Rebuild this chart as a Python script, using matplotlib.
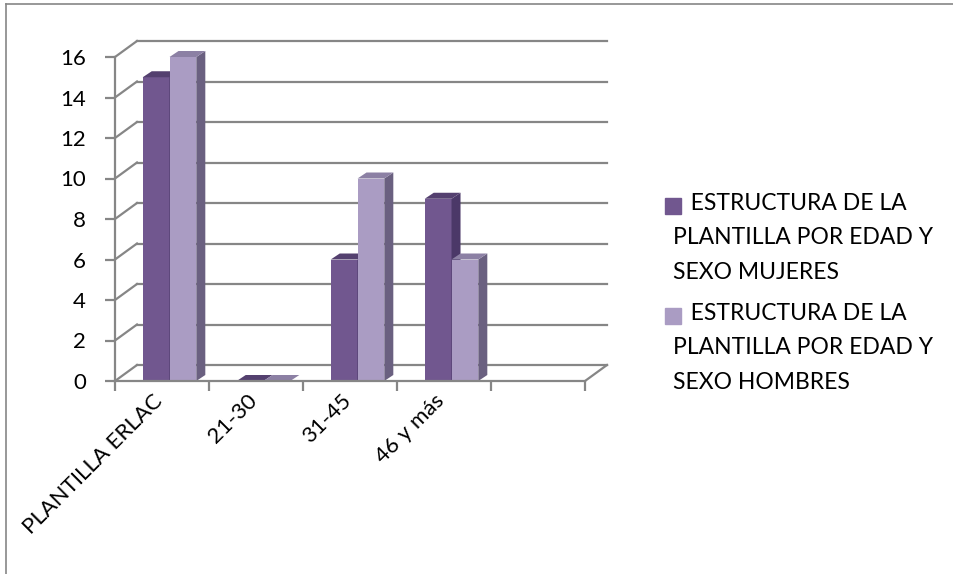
import matplotlib.pyplot as plt
import matplotlib.patches as mpatches
from matplotlib.lines import Line2D
import numpy as np

# data
categories = ['PLANTILLA ERLAC', '21-30', '31-45', '46 y más', '']
mujeres = [15, 0, 6, 9, 0]
hombres = [16, 0, 10, 6, 0]
labels = ['ESTRUCTURA DE LA\nPLANTILLA POR EDAD Y\nSEXO MUJERES',
          'ESTRUCTURA DE LA\nPLANTILLA POR EDAD Y\nSEXO HOMBRES']
yticks = list(range(0, 17, 2))

plt.rcParams['font.family'] = ['Lato', 'DejaVu Sans']

W, H = 954, 574
fig = plt.figure(figsize=(W / 100, H / 100), dpi=100)

# axes placed in pixels
px_left, px_right, px_bottom, px_top = 115, 613, 381, 42
ax = fig.add_axes([px_left / W, (H - px_bottom) / H,
                   (px_right - px_left) / W, (px_bottom - px_top) / H])
cat_px = 94.0
val_px = 20.25
ax.set_xlim(-0.5, -0.5 + (px_right - px_left) / cat_px)
ax.set_ylim(0, (px_bottom - px_top) / val_px)

grey = '#868686'
wall_dx = 22 / cat_px   # back wall offset
wall_dy = 16 / val_px
n = len(categories)

# back wall gridlines and side wall diagonals
for v in yticks:
    ax.add_line(Line2D([-0.5 + wall_dx, n - 0.5 + wall_dx], [v + wall_dy, v + wall_dy],
                       color=grey, lw=1.6, zorder=1, clip_on=False))
    ax.add_line(Line2D([-0.5, -0.5 + wall_dx], [v, v + wall_dy],
                       color=grey, lw=1.6, zorder=1, clip_on=False))
# floor right edge
ax.add_line(Line2D([n - 0.5, n - 0.5 + wall_dx], [0, wall_dy],
                   color=grey, lw=1.6, zorder=1, clip_on=False))

# bars with pseudo 3d faces
x = np.arange(n)
bw = 0.285
shift = 0.08
bar_dx = 9 / cat_px
bar_dy = 6 / val_px
series = [
    (mujeres, -bw / 2 + shift, '#71578F', '#4B3868', '#54406F'),
    (hombres, bw / 2 + shift, '#AA9CC3', '#6A6080', '#8C80A4'),
]
for si, (vals, off, front, side, top) in enumerate(series):
    for xi, v in zip(x, vals):
        if categories[xi] == '':
            continue
        x0 = xi + off - bw / 2
        x1 = xi + off + bw / 2
        z = 3 + si
        if v > 0:
            ax.bar(xi + off, v, bw, color=front, zorder=z, edgecolor='none')
            ax.add_patch(mpatches.Polygon([(x1, 0), (x1 + bar_dx, bar_dy),
                                           (x1 + bar_dx, v + bar_dy), (x1, v)],
                                          closed=True, color=side, zorder=z, lw=0))
        ax.add_patch(mpatches.Polygon([(x0, v), (x1, v), (x1 + bar_dx, v + bar_dy),
                                       (x0 + bar_dx, v + bar_dy)],
                                      closed=True, color=top, zorder=z, lw=0))

# front axes
for s in ['top', 'right']:
    ax.spines[s].set_visible(False)
ax.spines['left'].set_bounds(0, 16)
ax.spines['bottom'].set_bounds(-0.5, n - 0.5)
for s in ['left', 'bottom']:
    ax.spines[s].set_color(grey)
    ax.spines[s].set_linewidth(1.6)
    ax.spines[s].set_zorder(6)

ax.set_yticks(yticks)
ax.set_yticklabels([str(t) for t in yticks], fontsize=16)
ax.tick_params(axis='y', length=7, width=1.6, color=grey, pad=14)

ax.set_xticks(np.arange(n + 1) - 0.5)
ax.set_xticklabels([])
ax.tick_params(axis='x', which='major', length=7, width=1.6, color=grey)
ax.set_xticks(x + 0.05, minor=True)
ax.set_xticklabels(categories, minor=True, fontsize=16, rotation=45,
                   ha='right', va='top')
ax.tick_params(axis='x', which='minor', length=0, pad=7)
ax.patch.set_visible(False)

# legend drawn by hand
colors = ['#71578F', '#AA9CC3']
leg_y = [198, 308]
for c, lab, yy in zip(colors, labels, leg_y):
    fig.patches.append(mpatches.Rectangle((665 / W, (H - yy - 16) / H), 16 / W, 16 / H,
                                          color=c, transform=fig.transFigure))
    fig.text(673 / W, (H - yy + 5) / H, '   ' + lab, fontsize=16.5, va='top', ha='left',
             linespacing=1.78)

# outer frame
fig.add_artist(Line2D([6 / W, 6 / W], [0, (H - 4) / H], color=grey, lw=1.2,
                      transform=fig.transFigure))
fig.add_artist(Line2D([6 / W, 1], [(H - 4) / H, (H - 4) / H], color=grey, lw=1.2,
                      transform=fig.transFigure))

fig.savefig('out.png', dpi=100)
